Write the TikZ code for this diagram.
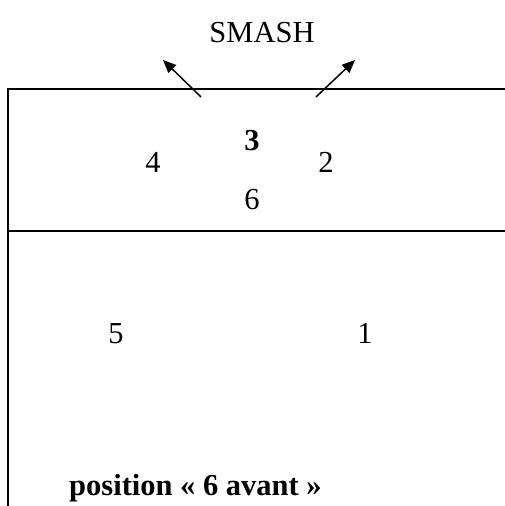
\documentclass[tikz,border=0pt]{standalone}
\usepackage{fontspec}
\setmainfont{Liberation Serif}
\usetikzlibrary{arrows.meta}
\begin{document}
\begin{tikzpicture}[x=1pt,y=-1pt,
  court/.style={line width=1.5pt},
  arr/.style={line width=1.5pt,-{Triangle[length=13pt,width=11pt]}},
  lbl/.style={font=\fontsize{30.5}{34}\selectfont,anchor=base,inner sep=0pt},
  blbl/.style={lbl,font=\fontsize{30.5}{34}\selectfont\bfseries}]
\useasboundingbox (0,0) rectangle (505,506);
\coordinate (tl) at (8,89);
\coordinate (tr) at (505,89);
\coordinate (bl) at (8,506);
\coordinate (ml) at (8,231);
\coordinate (mr) at (505,231);
\draw[court] (tr) -- (tl) -- (bl);
\draw[court] (ml) -- (mr);
\coordinate (a1s) at (201,97);
\coordinate (a1e) at (163,60);
\coordinate (a2s) at (316,97);
\coordinate (a2e) at (355,60);
\draw[arr] (a1s) -- (a1e);
\draw[arr] (a2s) -- (a2e);
\node[lbl] (smash) at (262,42) {SMASH};
\node[lbl] (p4) at (153,172) {4};
\node[blbl] (p3) at (252,150) {3};
\node[lbl] (p2) at (326,172) {2};
\node[lbl] (p6) at (252,209) {6};
\node[lbl] (p5) at (116,343) {5};
\node[lbl] (p1) at (365,343) {1};
\node[blbl,anchor=base west] (cap) at (69,495) {position « 6 avant »};
\end{tikzpicture}
\end{document}
